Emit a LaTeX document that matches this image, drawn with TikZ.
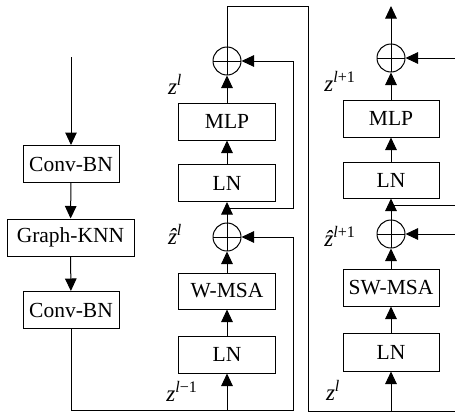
\documentclass[tikz,border=0pt]{standalone}
\usepackage{fontspec}
\setmainfont{Liberation Serif}
\usetikzlibrary{arrows.meta}
\tikzset{
  blk/.style={draw, line width=1pt, minimum height=37pt, inner sep=0pt, font=\fontsize{21.5}{24}\selectfont},
  addop/.style={draw, circle, line width=1pt, minimum size=28pt, inner sep=0pt,
    path picture={\draw[line width=1pt] (path picture bounding box.north) -- (path picture bounding box.south)
      (path picture bounding box.west) -- (path picture bounding box.east);}},
  ln/.style={line width=1pt},
  arr/.style={line width=1pt, -{Triangle[length=12.5pt,width=11.5pt]}},
  lab/.style={font=\fontsize{23}{26}\selectfont, inner sep=0pt}
}
\begin{document}
\begin{tikzpicture}[x=1pt,y=-1pt]
\useasboundingbox (0,0) rectangle (455,413);
% left column
\node[blk, minimum width=96pt] (cb1) at (71,164) {Conv-BN};
\node[blk, minimum width=127pt] (gk) at (70.5,237.5) {Graph-KNN};
\node[blk, minimum width=96pt] (cb2) at (71,310) {Conv-BN};
\coordinate (in) at (71,57);
% middle column
\node[addop] (add1) at (227,61) {};
\node[blk, minimum width=97pt] (mlp1) at (227,121.5) {MLP};
\node[blk, minimum width=97pt] (ln1) at (227,183) {LN};
\node[addop] (add0) at (227,237) {};
\node[blk, minimum width=97pt, minimum height=36pt] (wmsa) at (227,291) {W-MSA};
\node[blk, minimum width=97pt] (ln0) at (227,354.5) {LN};
% right column
\node[addop] (add3) at (391,58) {};
\node[blk, minimum width=96pt] (mlp2) at (391,118.5) {MLP};
\node[blk, minimum width=96pt, minimum height=36pt] (ln3) at (391,180) {LN};
\node[addop] (add2) at (391,234) {};
\node[blk, minimum width=96pt] (swmsa) at (391,287.5) {SW-MSA};
\node[blk, minimum width=96pt, minimum height=38pt] (ln2) at (391,352) {LN};
% helper coordinates
\coordinate (c0) at (293,410);
\coordinate (j1) at (227,208);
\coordinate (c1) at (293,208);
\coordinate (t1) at (227,6);
\coordinate (t2) at (308,6);
\coordinate (b2) at (308,411);
\coordinate (e2) at (455,411);
\coordinate (j3) at (391,205);
\coordinate (e3) at (455,205);
\coordinate (e4) at (455,234);
\coordinate (e5) at (455,58);
\coordinate (out) at (391,6);
% left column flow
\draw[arr] (in) -- (cb1);
\draw[arr] (cb1) -- (gk);
\draw[arr] (gk) -- (cb2);
\draw[arr] (cb2.south) |- (c0) |- (add0.east);
% middle column flow
\draw[arr] (ln0.south |- c0) -- (ln0.south);
\draw[arr] (ln0) -- (wmsa);
\draw[arr] (wmsa) -- (add0);
\draw[arr] (add0) -- (ln1);
\draw[arr] (j1) -- (c1) |- (add1.east);
\draw[arr] (ln1) -- (mlp1);
\draw[arr] (mlp1) -- (add1);
\draw[ln] (add1.north) -- (t1) -- (t2) -- (b2) -- (e2);
% right column flow
\draw[arr] (ln2.south |- b2) -- (ln2.south);
\draw[arr] (ln2) -- (swmsa);
\draw[arr] (swmsa) -- (add2);
\draw[arr] (e4) -- (add2.east);
\draw[arr] (add2) -- (ln3);
\draw[ln] (j3) -- (e3);
\draw[arr] (ln3) -- (mlp2);
\draw[arr] (mlp2) -- (add3);
\draw[arr] (e5) -- (add3.east);
\draw[arr] (add3.north) -- (out);
% labels
\node[lab] (l1) at (175,84) {\itshape z\textsuperscript{l}};
\node[lab] (l2) at (175,234) {\itshape ẑ\textsuperscript{l}};
\node[lab] (l3) at (182,391) {\itshape z\textsuperscript{l\upshape −1}};
\node[lab] (l4) at (340,81) {\itshape z\textsuperscript{l\upshape +1}};
\node[lab] (l5) at (340,236) {\itshape ẑ\textsuperscript{l\upshape +1}};
\node[lab] (l6) at (333,390) {\itshape z\textsuperscript{l}};
\end{tikzpicture}
\end{document}
